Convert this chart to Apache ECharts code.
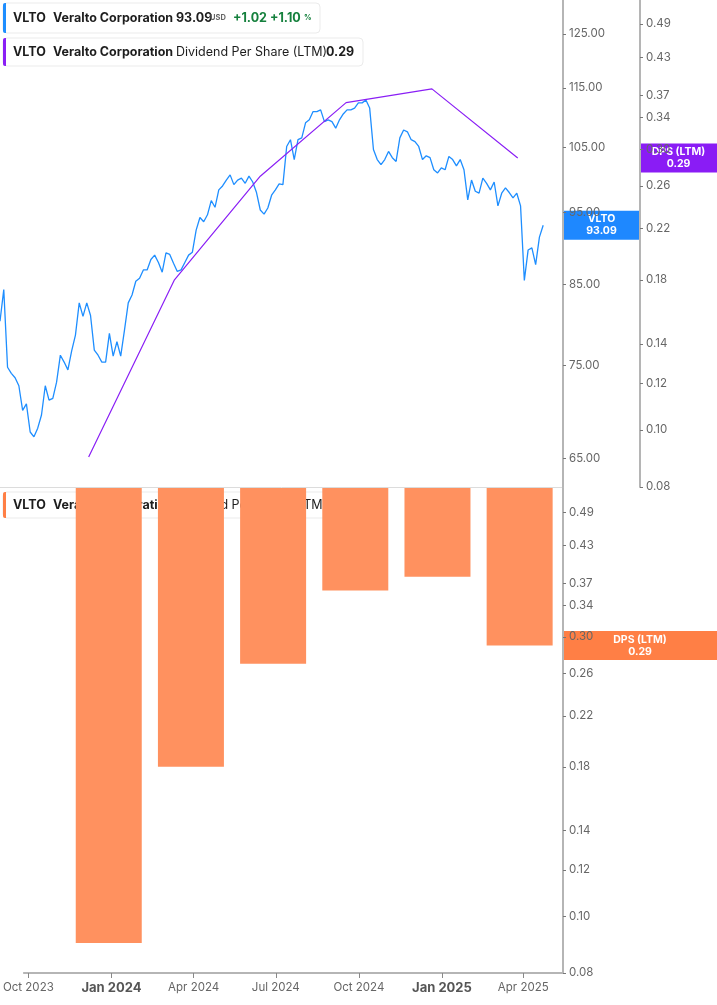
<!DOCTYPE html>
<html>
<head>
<meta charset="utf-8">
<script src="https://cdn.jsdelivr.net/npm/echarts@6/dist/echarts.min.js"></script>
<style>
  html, body { margin: 0; padding: 0; background: #fff; }
  #main { width: 717px; height: 1005px; }
</style>
</head>
<body>
<div id="main"></div>
<script>
// price readings, one every 4 calendar days from 2023-09-26
const priceStart = '2023-09-26';
const priceStepDays = 4;
const prices = [
  80.3, 84.3, 74.8, 74.1, 73.6, 72.7, 70.0, 70.7, 67.7, 67.2,
  68.1, 69.5, 72.7, 71.1, 71.3, 73.1, 76.2, 75.4, 74.5, 76.7,
  78.6, 82.6, 80.9, 82.6, 81.0, 76.8, 76.2, 75.4, 75.4, 78.8,
  76.1, 77.8, 76.1, 79.2, 82.6, 83.6, 85.4, 85.8, 86.9, 86.9,
  88.3, 88.9, 87.9, 86.6, 89.2, 89.0, 87.8, 86.7, 86.9, 87.9,
  88.9, 89.3, 92.4, 94.2, 93.6, 94.6, 96.7, 95.7, 98.3, 98.9,
  99.8, 100.6, 99.1, 99.8, 100.1, 99.3, 100.4, 99.5, 97.9, 95.3,
  94.7, 95.6, 97.5, 98.3, 99.2, 99.1, 105.1, 106.2, 103.0, 106.2,
  106.5, 109.0, 109.5, 110.9, 110.9, 111.2, 109.2, 109.5, 109.2, 108.1,
  109.5, 110.5, 111.2, 111.2, 111.5, 112.4, 112.4, 112.9, 111.5, 104.6,
  103.0, 102.2, 103.0, 104.3, 103.3, 102.7, 106.5, 107.8, 107.5, 106.2,
  105.9, 105.1, 103.0, 103.6, 103.3, 101.4, 100.9, 101.7, 101.4, 103.5,
  103.0, 102.0, 103.0, 101.4, 96.8, 99.8, 98.1, 97.8, 100.1, 99.3,
  98.3, 99.5, 95.9, 97.8, 98.6, 97.9, 97.1, 97.8, 95.9, 85.5,
  89.6, 89.9, 87.6, 91.4, 93.09
];

const dpsDates = ['2023-12-29', '2024-03-29', '2024-06-28', '2024-09-27', '2024-12-27', '2025-03-28'];
const dpsValues = [0.09, 0.18, 0.27, 0.36, 0.38, 0.29];

const priceTicks = [65, 75, 85, 95, 105, 115, 125];
const dpsTicks = [0.08, 0.10, 0.12, 0.14, 0.18, 0.22, 0.26, 0.30, 0.34, 0.37, 0.43, 0.49];
const quarterTicks = ['2023-10-01', '2024-01-01', '2024-04-01', '2024-07-01', '2024-10-01', '2025-01-01', '2025-04-01'];

const MONTHS = ['Jan', 'Feb', 'Mar', 'Apr', 'May', 'Jun', 'Jul', 'Aug', 'Sep', 'Oct', 'Nov', 'Dec'];
const DAY = 86400000;
const toT = d => Date.parse(d + 'T00:00:00Z');
const t0 = toT(priceStart);
const priceData = prices.map((p, i) => [t0 + i * priceStepDays * DAY, p]);
const dpsData = dpsDates.map((d, i) => [toT(d), dpsValues[i]]);
const tickTimes = quarterTicks.map(toT);

const xMin = toT('2023-09-26');
const xMax = toT('2025-05-15');

const axisGrey = '#b5b5b5';
const labelGrey = '#666';
const FONT = 'Inter, "Noto Sans", sans-serif';

function rightAxis(gridIdx, min, max, ticks, offset) {
  return {
    type: 'log', gridIndex: gridIdx, position: 'right', offset: offset,
    min: min, max: max,
    axisLine: { show: true, lineStyle: { color: axisGrey, width: 2 } },
    axisTick: { show: true, length: 3, customValues: ticks, lineStyle: { color: '#777' } },
    axisLabel: {
      customValues: ticks, color: labelGrey, fontFamily: FONT, fontSize: 11.5, margin: 6,
      formatter: v => Number(v).toFixed(2)
    },
    splitLine: { show: false }
  };
}

const chart = echarts.init(document.getElementById('main'), null, { renderer: 'canvas' });

chart.setOption({
  backgroundColor: '#fff',
  animation: false,
  grid: [
    { left: 0, right: 154, top: 0, height: 487 },
    { left: 0, right: 154, top: 488, bottom: 32 }
  ],
  xAxis: [
    { type: 'value', gridIndex: 0, min: xMin, max: xMax, show: false, splitLine: { show: false } },
    {
      type: 'value', gridIndex: 1, min: xMin, max: xMax,
      axisLine: { lineStyle: { color: axisGrey, width: 2 } },
      axisTick: { show: true, customValues: tickTimes, length: 5, lineStyle: { color: '#888' } },
      axisLabel: {
        customValues: tickTimes, margin: 9, color: labelGrey, fontFamily: FONT, fontSize: 11.5,
        formatter: v => {
          const d = new Date(v);
          const m = d.getUTCMonth();
          const s = MONTHS[m] + ' ' + d.getUTCFullYear();
          return m === 0 ? '{y|' + s + '}' : s;
        },
        rich: { y: { fontWeight: 'bold', fontSize: 13, color: '#555', fontFamily: FONT } }
      },
      splitLine: { show: false }
    }
  ],
  yAxis: [
    rightAxis(0, 62.2, 131.7, priceTicks, 0),
    rightAxis(0, 0.08, 0.538, dpsTicks, 77),
    rightAxis(1, 0.08, 0.539, dpsTicks, 0)
  ],
  series: [
    {
      type: 'line', name: 'VLTO', xAxisIndex: 0, yAxisIndex: 0, data: priceData,
      showSymbol: false, lineStyle: { color: '#1E8EFF', width: 1.3 }
    },
    {
      type: 'line', name: 'DPS', xAxisIndex: 0, yAxisIndex: 1, data: dpsData,
      showSymbol: false, lineStyle: { color: '#8A1FF5', width: 1.2 }
    },
    {
      type: 'bar', name: 'DPS bars', xAxisIndex: 1, yAxisIndex: 2, data: dpsData,
      barWidth: 66, itemStyle: { color: '#FF915F' }
    }
  ]
});

// legend boxes and axis value tags
function legendBox(y, h, w, color, parts) {
  const els = [
    { type: 'rect', shape: { x: 3, y: y, width: w, height: h, r: 4 },
      style: { fill: '#fff', stroke: '#ebebeb', lineWidth: 1 } },
    { type: 'rect', shape: { x: 3, y: y, width: 3, height: h, r: [2, 0, 0, 2] }, style: { fill: color } }
  ];
  parts.forEach(p => els.push({
    type: 'text', x: p[0], y: y + h / 2,
    style: {
      text: p[1], fill: p[3] || '#1d1d1d', font: (p[2] || 'bold 12.5px') + ' ' + FONT,
      verticalAlign: 'middle', textAlign: 'left'
    }
  }));
  return els;
}

function valueTag(x, y, w, color, text) {
  return [
    { type: 'rect', shape: { x: x, y: y - 14.5, width: w, height: 29 }, style: { fill: color } },
    { type: 'text', x: x + w / 2, y: y,
      style: { text: text, fill: '#fff', font: 'bold 10.5px ' + FONT, textAlign: 'center',
               verticalAlign: 'middle', lineHeight: 12 } }
  ];
}

const yPrice = chart.convertToPixel({ yAxisIndex: 0 }, 93.09);
const yDpsTop = chart.convertToPixel({ yAxisIndex: 1 }, 0.29);
const yDpsBottom = chart.convertToPixel({ yAxisIndex: 2 }, 0.29);

const green = '#15803d';
const graphics = [].concat(
  [{ type: 'line', shape: { x1: 0, y1: 487.5, x2: 563, y2: 487.5 }, style: { stroke: '#dcdcdc', lineWidth: 1 } }],
  legendBox(3, 30, 317, '#1E8EFF', [
    [13, 'VLTO'], [53, 'Veralto Corporation'], [176, '93.09'],
    [210, 'USD', 'bold 7.5px', '#666'], [233, '+1.02', 'bold 12.5px', green],
    [270, '+1.10', 'bold 12.5px', green], [304, '%', 'bold 7.5px', green]
  ]),
  legendBox(38, 28, 360, '#8A1FF5', [
    [13, 'VLTO'], [53, 'Veralto Corporation'], [176, 'Dividend Per Share (LTM)', '12.5px'], [326, '0.29']
  ]),
  legendBox(492, 26, 360, '#FF7F45', [
    [13, 'VLTO'], [53, 'Veralto Corporation'], [176, 'Dividend Per Share (LTM)', '12.5px'], [326, '0.29']
  ]),
  valueTag(563, yPrice, 77, '#1E88FF', 'VLTO\n93.09'),
  valueTag(640, yDpsTop, 77, '#8A1CF5', 'DPS (LTM)\n0.29'),
  valueTag(563, yDpsBottom, 154, '#FF7F45', 'DPS (LTM)\n0.29')
);

chart.setOption({ graphic: graphics });
</script>
</body>
</html>
